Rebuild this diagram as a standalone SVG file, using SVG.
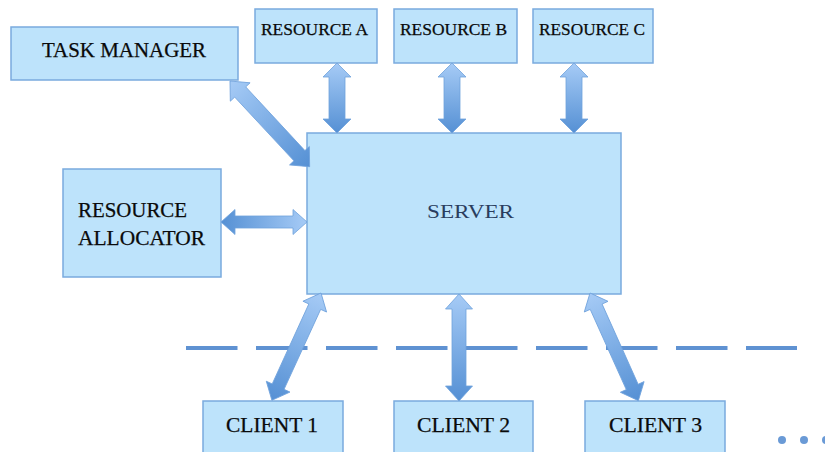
<svg xmlns="http://www.w3.org/2000/svg" width="825" height="452" viewBox="0 0 825 452">
<defs>
<style>
.box{fill:#bde3fb;stroke:#7aaade;stroke-width:1.5}
.lbl{font-family:"Liberation Serif","DejaVu Serif",serif;fill:#0a0a0a;font-weight:normal;stroke:#0a0a0a;stroke-width:0.25}
.arr{fill:url(#ag);stroke:#6fa2dc;stroke-width:0.8}
</style>
<linearGradient id="ag" x1="0" y1="0" x2="1" y2="0">
<stop offset="0" stop-color="#a6cbf6"/>
<stop offset="1" stop-color="#5590d4"/>
</linearGradient>
</defs>
<rect width="825" height="452" fill="#fff"/>
<g id="task-manager"><rect class="box" x="11" y="27" width="227" height="53"/><text class="lbl" x="42" y="57" font-size="21" textLength="164" lengthAdjust="spacingAndGlyphs">TASK MANAGER</text></g>
<g id="resource-a"><rect class="box" x="255" y="9" width="122" height="54"/><text class="lbl" x="261" y="35" font-size="17.5" textLength="107" lengthAdjust="spacingAndGlyphs">RESOURCE A</text></g>
<g id="resource-b"><rect class="box" x="394" y="9" width="123" height="54"/><text class="lbl" x="400" y="35" font-size="17.5" textLength="107" lengthAdjust="spacingAndGlyphs">RESOURCE B</text></g>
<g id="resource-c"><rect class="box" x="533" y="9" width="120" height="54"/><text class="lbl" x="539" y="35" font-size="17.5" textLength="106" lengthAdjust="spacingAndGlyphs">RESOURCE C</text></g>
<g id="server"><rect class="box" x="307" y="133" width="314" height="161"/><text x="427" y="218" font-family="Liberation Serif,serif" font-size="19" fill="#2a3d5e" textLength="87" lengthAdjust="spacingAndGlyphs">SERVER</text></g>
<g id="resource-allocator"><rect class="box" x="63" y="169" width="158" height="108"/><text class="lbl" font-size="21" x="78" y="217" textLength="109" lengthAdjust="spacingAndGlyphs">RESOURCE</text><text class="lbl" font-size="21" x="78" y="245" textLength="127" lengthAdjust="spacingAndGlyphs">ALLOCATOR</text></g>
<g id="client-1"><rect class="box" x="203" y="401" width="140" height="56"/><text class="lbl" font-size="21" x="226" y="432" textLength="92" lengthAdjust="spacingAndGlyphs">CLIENT 1</text></g>
<g id="client-2"><rect class="box" x="394" y="401" width="139" height="56"/><text class="lbl" font-size="21" x="417" y="432" textLength="93" lengthAdjust="spacingAndGlyphs">CLIENT 2</text></g>
<g id="client-3"><rect class="box" x="585" y="401" width="140" height="56"/><text class="lbl" font-size="21" x="609" y="432" textLength="93" lengthAdjust="spacingAndGlyphs">CLIENT 3</text></g>
<g id="separator">
<line x1="186" y1="348" x2="797" y2="348" stroke="#5f92d2" stroke-width="4" stroke-dasharray="51.5 18.5"/>
<circle cx="782" cy="440" r="4" fill="#6a9ad6"/><circle cx="804" cy="440" r="4" fill="#6a9ad6"/><circle cx="826" cy="440" r="4" fill="#6a9ad6"/>
</g>
<g id="connectors">
<polygon class="arr" transform="translate(337,63) rotate(90)" points="0,0 14,-14 14,-8 56,-8 56,-14 70,0 56,14 56,8 14,8 14,14"/>
<polygon class="arr" transform="translate(452,63) rotate(90)" points="0,0 14,-14 14,-8 56,-8 56,-14 70,0 56,14 56,8 14,8 14,14"/>
<polygon class="arr" transform="translate(574,63) rotate(90)" points="0,0 14,-14 14,-8 56,-8 56,-14 70,0 56,14 56,8 14,8 14,14"/>
<polygon class="arr" transform="translate(307,222) rotate(180)" points="0,0 14,-12.5 14,-6 72,-6 72,-12.5 86,0 72,12.5 72,6 14,6 14,12.5"/>
<polygon class="arr" transform="translate(230,81) rotate(47.1)" points="0,0 15,-13.5 15,-7.5 102,-7.5 102,-13.5 117,0 102,13.5 102,7.5 15,7.5 15,13.5"/>
<polygon class="arr" transform="translate(321,293) rotate(114.6)" points="0,0 15,-13 15,-6.5 103,-6.5 103,-13 118,0 103,13 103,6.5 15,6.5 15,13"/>
<polygon class="arr" transform="translate(459,294) rotate(90)" points="0,0 15,-13.5 15,-7 92,-7 92,-13.5 107,0 92,13.5 92,7 15,7 15,13.5"/>
<polygon class="arr" transform="translate(590,293) rotate(65.8)" points="0,0 15,-13 15,-6.5 103,-6.5 103,-13 118,0 103,13 103,6.5 15,6.5 15,13"/>
</g>
</svg>
